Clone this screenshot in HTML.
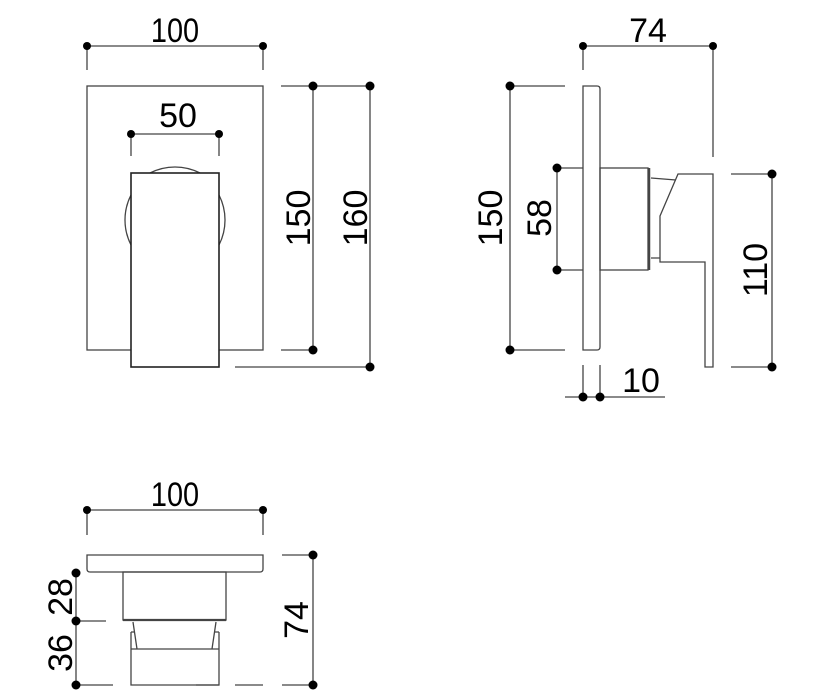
<!DOCTYPE html>
<html><head><style>html,body{margin:0;padding:0;background:#fff}svg{display:block}text{font-family:"Liberation Sans",Arial,sans-serif;font-size:34px}</style></head><body>
<svg width="818" height="694" viewBox="0 0 818 694" xmlns="http://www.w3.org/2000/svg" fill="#000">
<g stroke="#444" stroke-width="1.3" fill="none">
<rect x="87" y="86" width="176" height="264" fill="#fff"/>
<path d="M131 195 A55 55 0 0 0 131 245 M219 195 A55 55 0 0 1 219 245 M150 173 A55 55 0 0 1 200 173"/>
<rect x="131" y="173" width="88" height="194" fill="#fff" stroke="#222" stroke-width="1.6"/>
<path d="M87 46H263 M87 46V70 M263 46V70 M131 134H219 M131 134V156 M219 134V156"/>
<path d="M281 86H370 M281 350H313 M235 367H370 M313 86V350 M370 86V367"/>
<path d="M583 86H597 Q600 86 600 89 V347 Q600 350 597 350 H583 Z"/>
<path d="M510 86H565 M510 350H565 M510 86V350 M557 168H583 M557 270H583 M557 168V270"/>
<rect x="600" y="168" width="48" height="102"/>
<path d="M649 168V270" stroke-width="2.5"/>
<path d="M651 178L676 180 M651 258H660"/>
<path d="M678 174H713V367H705V262H660V216Z"/>
<path d="M583 46H713 M583 46V70 M713 46V157 M731 174H772 M731 367H772 M772 174V367"/>
<path d="M583 365V398 M600 365V398 M565 397H665"/>
<path d="M87 510H263 M87 510V535 M263 510V535"/>
<path d="M87 555H263V569Q263 572 260 572H90Q87 572 87 569Z"/>
<rect x="123" y="572" width="103" height="48"/>
<path d="M123 620H226" stroke-width="2.2"/>
<path d="M133 622L137 649 M216 622L212 649"/>
<path d="M131 632V685H219V632 M131 632H135 M215 632H219 M131 649H219"/>
<path d="M282 555H313 M282 685H313 M313 555V685 M76 573V685 M76 621H106 M76 685H113 M235 685H263 M196 685H219"/>
</g>
<g fill="#000">
<circle cx="87" cy="46" r="4"/><circle cx="263" cy="46" r="4"/>
<circle cx="131" cy="134" r="4"/><circle cx="219" cy="134" r="4"/>
<circle cx="313" cy="86" r="4.5"/><circle cx="313" cy="350" r="4.5"/>
<circle cx="370" cy="86" r="4.5"/><circle cx="370" cy="367" r="4.5"/>
<circle cx="583" cy="46" r="4"/><circle cx="713" cy="46" r="4"/>
<circle cx="510" cy="86" r="4.5"/><circle cx="510" cy="350" r="4.5"/>
<circle cx="557" cy="168" r="4.5"/><circle cx="557" cy="270" r="4.5"/>
<circle cx="772" cy="174" r="4.5"/><circle cx="772" cy="367" r="4.5"/>
<circle cx="583" cy="397" r="4.5"/><circle cx="600" cy="397" r="4.5"/>
<circle cx="87" cy="510" r="4"/><circle cx="263" cy="510" r="4"/>
<circle cx="313" cy="555" r="4.5"/><circle cx="313" cy="685" r="4.5"/>
<circle cx="76" cy="573" r="4.5"/><circle cx="76" cy="621" r="4.5"/><circle cx="76" cy="685" r="4.5"/>
</g>
<g text-anchor="middle">
<text x="175" y="42" transform="translate(175 0) scale(0.85 1) translate(-175 0)">100</text>
<text x="648" y="42">74</text>
<text x="178" y="127">50</text>
<text x="641" y="392">10</text>
<text x="175" y="506" transform="translate(175 0) scale(0.85 1) translate(-175 0)">100</text>
<text transform="translate(310 218) rotate(-90)">150</text>
<text transform="translate(367 218) rotate(-90)">160</text>
<text transform="translate(502 218) rotate(-90)">150</text>
<text transform="translate(551 218) rotate(-90)">58</text>
<text transform="translate(767 270) rotate(-90)">110</text>
<text transform="translate(308 620) rotate(-90)">74</text>
<text transform="translate(72 597) rotate(-90)">28</text>
<text transform="translate(72 653) rotate(-90)">36</text>
</g>
</svg>
</body></html>
